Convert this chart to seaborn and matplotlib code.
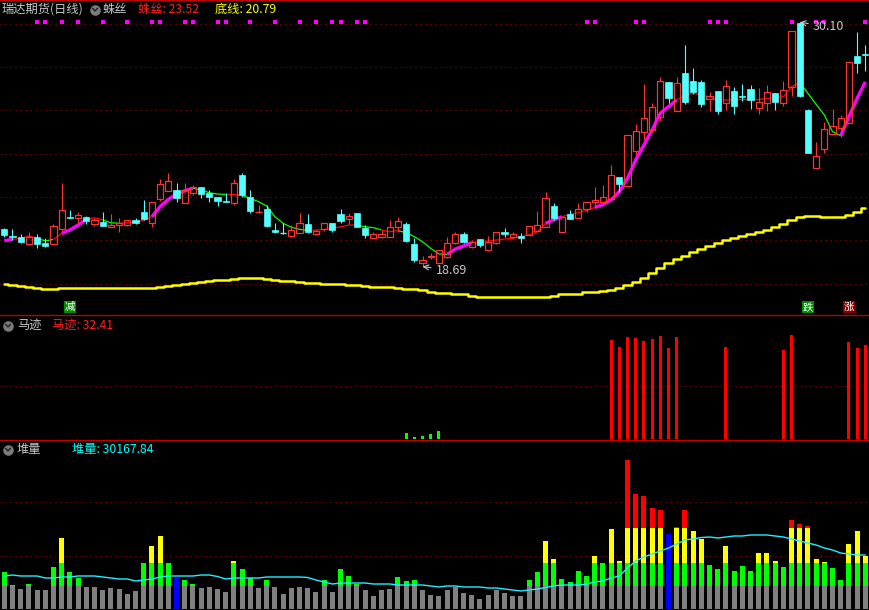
import numpy as np
import matplotlib
matplotlib.use("Agg")
import matplotlib.pyplot as plt
import seaborn as sns
from matplotlib.patches import Rectangle
from matplotlib.lines import Line2D

# ---------------- data ----------------
opens = [20.43, 20.14, 20.05, 19.75, 20.09, 19.81, 19.73, 20.43, 21.02, 20.97,
         21.02, 20.67, 20.79, 20.55, 20.63, 20.63, 20.87, 21.23, 20.71, 21.86,
         22.24, 22.27, 21.67, 22.14, 22.39, 22.14, 21.93, 21.77, 21.65, 22.97,
         21.93, 21.21, 21.37, 20.40, 20.27, 20.12, 20.25, 20.68, 20.20, 20.43,
         20.74, 21.15, 20.91, 21.18, 20.48, 20.04, 20.09, 20.09, 20.55, 20.68,
         19.75, 18.84, 19.12, 18.87, 19.12, 19.78, 20.21, 19.59, 19.96, 19.47,
         19.81, 20.30, 20.06, 20.12, 20.17, 20.37, 20.53, 21.52, 20.29, 21.13,
         20.95, 21.37, 21.72, 21.72, 21.83, 22.87, 22.47, 24.09, 24.96, 25.07,
         25.66, 27.30, 25.96, 27.72, 27.36, 27.31, 26.52, 26.89, 26.32, 26.89,
         26.67, 26.98, 26.11, 26.34, 26.78, 26.34, 27.09, 30.05, 26.00, 23.31,
         24.17, 24.87, 25.15, 25.38, 28.52, 28.62]
highs = [20.49, 20.43, 20.20, 20.30, 20.20, 20.01, 20.67, 22.59, 21.33, 21.25,
         21.05, 20.97, 21.23, 21.13, 20.97, 20.87, 20.97, 21.80, 21.69, 22.78,
         23.06, 22.58, 22.58, 22.50, 22.39, 22.27, 21.93, 22.11, 22.77, 23.05,
         22.27, 21.57, 21.57, 20.71, 20.71, 20.63, 21.18, 21.13, 20.40, 20.71,
         20.74, 21.37, 21.18, 21.18, 20.63, 20.32, 20.40, 20.87, 21.02, 20.79,
         20.01, 19.18, 19.31, 19.47, 20.09, 20.32, 20.32, 19.93, 19.96, 20.12,
         20.32, 20.48, 20.32, 20.24, 20.59, 21.30, 22.19, 21.67, 21.02, 21.33,
         21.65, 21.69, 22.42, 22.50, 23.43, 22.87, 24.84, 25.34, 27.22, 26.32,
         27.56, 27.30, 27.56, 29.04, 27.98, 27.40, 26.83, 26.89, 27.40, 27.09,
         27.22, 27.17, 27.02, 27.17, 26.78, 27.36, 29.69, 30.10, 26.06, 24.52,
         25.43, 26.04, 25.77, 28.23, 29.63, 29.04]
lows = [20.05, 19.93, 19.81, 19.70, 19.57, 19.62, 19.68, 20.35, 20.95, 20.74,
        20.67, 20.59, 20.60, 20.55, 20.32, 20.60, 20.68, 20.87, 20.55, 21.77,
        22.24, 21.72, 21.67, 22.03, 21.88, 21.72, 21.53, 21.72, 21.57, 21.95,
        21.21, 21.18, 20.55, 20.25, 20.20, 20.09, 20.25, 20.27, 20.17, 20.36,
        20.32, 20.74, 20.68, 20.53, 20.01, 20.01, 20.04, 20.09, 20.32, 19.86,
        18.92, 18.69, 19.03, 18.87, 19.08, 19.75, 19.78, 19.55, 19.62, 19.43,
        19.73, 20.06, 20.01, 19.81, 20.17, 20.32, 20.53, 20.87, 20.29, 20.91,
        20.95, 21.25, 21.41, 21.72, 21.83, 22.19, 22.47, 23.90, 24.60, 24.96,
        25.50, 26.32, 25.96, 26.30, 26.75, 26.13, 25.96, 25.80, 26.00, 25.82,
        26.42, 26.05, 25.82, 25.96, 26.00, 26.20, 26.64, 26.60, 23.98, 23.31,
        23.98, 24.84, 24.76, 25.38, 27.72, 27.84]
closes = [20.17, 20.05, 19.86, 20.09, 19.73, 19.67, 20.59, 21.32, 20.95, 21.10,
          20.83, 20.87, 20.60, 20.65, 20.71, 20.87, 20.74, 20.90, 21.69, 22.55,
          22.67, 21.88, 22.27, 22.42, 22.08, 21.95, 21.77, 21.72, 22.58, 22.03,
          21.30, 21.25, 20.60, 20.32, 20.25, 20.40, 20.71, 20.32, 20.35, 20.71,
          20.40, 20.83, 21.05, 20.53, 20.17, 20.21, 20.21, 20.55, 20.82, 19.90,
          19.00, 19.00, 19.18, 19.47, 19.78, 20.20, 19.86, 19.86, 19.70, 19.86,
          20.32, 20.21, 20.21, 20.02, 20.59, 20.63, 21.88, 20.97, 21.02, 20.91,
          21.37, 21.69, 21.80, 21.93, 22.97, 22.56, 24.84, 25.02, 25.62, 26.14,
          27.36, 26.55, 27.25, 26.39, 26.83, 26.28, 26.64, 25.97, 27.12, 26.20,
          26.61, 26.45, 26.36, 26.83, 26.39, 26.94, 29.69, 26.67, 23.98, 23.86,
          25.12, 25.26, 25.62, 28.23, 28.21, 28.56]

# 蛛丝 line and its trend state per segment (M = strong rise, R = mild, G = falling)
spider = [19.90, 19.96, 20.01, 20.12, 20.01, 19.89, 19.96, 20.24, 20.40, 20.63,
          20.90, 20.97, 20.87, 20.74, 20.71, 20.74, 20.78, 20.84, 21.02, 21.49,
          21.83, 22.08, 22.23, 22.35, 22.27, 22.14, 22.08, 22.06, 22.06, 22.02,
          21.88, 21.72, 21.52, 21.02, 20.71, 20.53, 20.43, 20.38, 20.40, 20.42,
          20.48, 20.55, 20.63, 20.63, 20.55, 20.51, 20.40, 20.32, 20.37, 20.27,
          20.09, 19.85, 19.54, 19.28, 19.26, 19.51, 19.65, 19.81, 19.85, 19.89,
          19.93, 19.98, 20.01, 20.09, 20.17, 20.32, 20.71, 20.87, 21.02, 21.13,
          21.21, 21.31, 21.45, 21.59, 21.80, 22.19, 22.81, 23.67, 24.37, 25.07,
          25.85, 26.16, 26.47, 26.67, 26.78, 26.70, 26.62, 26.47, 26.47, 26.49,
          26.49, 26.49, 26.49, 26.55, 26.58, 26.62, 27.09, 27.28, 26.78, 26.27,
          25.77, 24.99, 24.80, 25.69, 26.55, 27.32]
spider_trend = ("M" "RRR" "GG" "R" "MMM" "RR" "GG" "RRRR" "MMMMM" "GGGG" "RR"
                "GGGGGGGG" "RRRRRR" "GGG" "RR" "GGGGGG" "MMM" "RRRRRRRRR" "MM"
                "RRRR" "MMMMMMMMMM" "RRRRRRRRRRRRRRR" "GGGGG" "MMM")

# 底线 line
base_line = [17.89, 17.84, 17.80, 17.75, 17.70, 17.66, 17.66, 17.70, 17.70, 17.70,
             17.70, 17.70, 17.70, 17.70, 17.70, 17.70, 17.70, 17.70, 17.70, 17.75,
             17.80, 17.84, 17.89, 17.94, 17.98, 18.03, 18.08, 18.08, 18.12, 18.17,
             18.17, 18.17, 18.12, 18.08, 18.03, 18.03, 17.98, 17.94, 17.94, 17.89,
             17.89, 17.89, 17.84, 17.84, 17.80, 17.75, 17.75, 17.75, 17.70, 17.66,
             17.66, 17.61, 17.52, 17.47, 17.47, 17.42, 17.42, 17.33, 17.28, 17.28,
             17.28, 17.28, 17.28, 17.28, 17.28, 17.28, 17.28, 17.33, 17.41, 17.41,
             17.41, 17.50, 17.50, 17.55, 17.60, 17.69, 17.83, 17.97, 18.16, 18.39,
             18.62, 18.86, 19.04, 19.18, 19.37, 19.51, 19.65, 19.79, 19.93, 20.03,
             20.12, 20.21, 20.31, 20.40, 20.54, 20.68, 20.87, 21.01, 21.05, 21.05,
             21.01, 21.01, 21.01, 21.10, 21.24, 21.43]

signal_dots = [4, 5, 7, 9, 12, 15, 18, 19, 22, 23, 26, 27, 30, 33, 36, 38, 40, 41,
               43, 44, 71, 72, 77, 78, 86, 87, 88, 96, 99, 100, 105]
mark_idx = [8, 98, 103]
mark_text = ["减", "跌", "涨"]
mark_color = ["#008a00", "#008a00", "#8a0000"]

# 马迹
majiu_red_idx = [74, 75, 76, 77, 78, 79, 80, 81, 82, 88, 95, 96, 103, 104, 105]
majiu_red_val = [34.2, 31.6, 35.2, 34.8, 33.8, 34.5, 35.5, 31.4, 35.2, 31.6,
                 30.7, 35.9, 33.5, 31.4, 32.41]
majiu_green_idx = [49, 50, 51, 52, 53]
majiu_green_val = [2.0, 0.7, 1.0, 1.7, 2.8]

# 堆量
volume = [21050, 13660, 11380, 14230, 10810, 10810, 23900, 40400, 21050, 17640,
          12800, 12520, 10810, 11950, 11380, 8540, 10240, 26000, 35850, 41540,
          26100, 17640, 16500, 14230, 11950, 12800, 11380, 9670, 27310, 22760,
          17640, 11950, 16500, 12520, 8540, 11950, 12800, 11950, 9670, 16500,
          9670, 22760, 18780, 14230, 10810, 7400, 10810, 11380, 18210, 15930,
          16500, 10810, 7970, 7400, 10810, 12800, 9100, 7970, 5690, 7970,
          10810, 9100, 7400, 7400, 16500, 21050, 38690, 28450, 17070, 15360,
          21620, 18780, 30160, 25900, 45520, 27310, 84780, 65440, 64300, 57470,
          56330, 42680, 46660, 56330, 44380, 39830, 25040, 22760, 35850, 21620,
          24470, 21620, 31860, 31860, 27310, 23900, 50640, 48370, 47230, 28450,
          26740, 23330, 16500, 36990, 44380, 30170]
volume_ma = [18780, 19350, 18780, 18780, 18780, 17640, 17640, 18210, 18210, 18780,
             18780, 18780, 18210, 17640, 17070, 17070, 15930, 16500, 17070, 18210,
             18780, 18780, 18780, 18780, 19350, 19350, 18490, 17070, 17640, 17640,
             17640, 17640, 18210, 18210, 18210, 18210, 18210, 17920, 16500, 15360,
             14230, 14790, 14790, 14790, 14790, 14230, 14230, 14230, 13660, 13660,
             13660, 13660, 13090, 12520, 13090, 13090, 12520, 12520, 12520, 11950,
             11950, 11380, 10810, 10240, 10810, 11380, 12230, 13090, 13660, 13660,
             13660, 14230, 15360, 15930, 17640, 18780, 23330, 27310, 29590, 31300,
             33000, 34710, 36990, 39260, 39830, 40680, 40970, 40400, 40970, 41540,
             41540, 42110, 42110, 42110, 41540, 40970, 39830, 38690, 37550, 36420,
             34710, 33570, 31860, 31300, 30730, 30730]
blue_idx = [21, 81]
vol_bands = [13100, 26200, 46100]

low_point = (51, 18.69)
high_point = (97, 30.10)

# ---------------- style ----------------
sns.set_theme(style="dark", rc={"figure.facecolor": "black", "axes.facecolor": "black"})
plt.rcParams['font.family'] = ['Noto Sans CJK SC', 'DejaVu Sans']
plt.rcParams['axes.unicode_minus'] = False

RED = "#ff3232"
CYAN = "#54ffff"
GRID = "#a00000"
SEP = "#c00000"
LABEL = "#c8c8c8"

W, H = 870, 610
fig = plt.figure(figsize=(8.7, 6.1), dpi=100, facecolor="black")


def frame(y0, y1):
    return [0, (H - y1) / H, 1, (y1 - y0) / H]


ax1 = fig.add_axes(frame(0, 315))
ax2 = fig.add_axes(frame(315, 440))
ax3 = fig.add_axes(frame(440, 610))

n = len(opens)
idx = np.arange(n)
XLIM = (-0.524, 105.57)

for ax in (ax1, ax2, ax3):
    ax.set_facecolor("black")
    ax.grid(False)
    for s in ax.spines.values():
        s.set_visible(False)
    ax.spines['top'].set_visible(True)
    ax.spines['top'].set_color(SEP)
    ax.spines['top'].set_linewidth(1.0)

# ---------------- main panel ----------------
for g in [17.88, 19.91, 21.92, 23.95, 25.98, 28.01, 30.04]:
    ax1.axhline(g, color=GRID, lw=0.8, ls=(0, (1, 3.5)), zorder=1)

# 底线 (yellow, stepped)
sns.lineplot(x=idx, y=base_line, ax=ax1, color="#ffff00", linewidth=1.8,
             drawstyle="steps-mid", zorder=2)

# 蛛丝 line coloured by trend
styles = {"M": ("#ff00ff", 2.4), "R": ("#ff0000", 0.9), "G": ("#00ff00", 0.9)}
start = 0
for s in range(1, len(spider_trend) + 1):
    if s == len(spider_trend) or spider_trend[s] != spider_trend[start]:
        col, lw = styles[spider_trend[start]]
        ax1.plot(idx[start:s + 1], spider[start:s + 1], color=col, lw=lw,
                 zorder=2, solid_capstyle="butt")
        start = s

# candles
w = 0.76
for i in range(n):
    o, h, l, c = opens[i], highs[i], lows[i], closes[i]
    if c >= o:
        col = RED
        top, bot = c, o
        if top - bot < 0.045:
            ax1.vlines(i, l, h, color=col, lw=0.8, zorder=3)
            ax1.hlines((top + bot) / 2, i - w / 2, i + w / 2, color=col, lw=1.0, zorder=3)
        else:
            ax1.vlines(i, top, h, color=col, lw=0.8, zorder=3)
            ax1.vlines(i, l, bot, color=col, lw=0.8, zorder=3)
            ax1.add_patch(Rectangle((i - w / 2, bot), w, top - bot, facecolor="none",
                                    edgecolor=col, lw=0.9, zorder=3))
    else:
        col = CYAN
        ax1.vlines(i, l, h, color=col, lw=0.8, zorder=3)
        if o - c < 0.045:
            ax1.hlines((o + c) / 2, i - w / 2, i + w / 2, color=col, lw=1.0, zorder=3)
        else:
            ax1.add_patch(Rectangle((i - w / 2, c), w, o - c, facecolor=col,
                                    edgecolor=col, lw=0.5, zorder=3))

# signal dots along the top
ax1.scatter(signal_dots, [0.9317] * len(signal_dots), marker="s", s=5, color="#ff00ff",
            linewidths=0, transform=ax1.get_xaxis_transform(), zorder=4)

# markers at the bottom of the main panel
for i, t, col in zip(mark_idx, mark_text, mark_color):
    ax1.text(i, 0.026, t, transform=ax1.get_xaxis_transform(), ha="center", va="center",
             color="white", fontsize=7.5,
             bbox=dict(boxstyle="square,pad=0.08", fc=col, ec="none"), zorder=5)

# extreme labels
ax1.annotate(f"{low_point[1]:.2f}", xy=low_point, xytext=(low_point[0] + 1.6, low_point[1] - 0.17),
             color=LABEL, fontsize=9, ha="left", va="center",
             arrowprops=dict(arrowstyle="->", color=LABEL, lw=0.8, shrinkA=1, shrinkB=0), zorder=5)
ax1.annotate(f"{high_point[1]:.2f}", xy=high_point, xytext=(high_point[0] + 1.6, high_point[1] - 0.2),
             color=LABEL, fontsize=9, ha="left", va="center",
             arrowprops=dict(arrowstyle="->", color=LABEL, lw=0.8, shrinkA=1, shrinkB=0), zorder=5)

ax1.set_xlim(*XLIM)
ax1.set_ylim(16.43, 31.14)

# ---------------- 马迹 panel ----------------
ax2.axhline(18.2, color=GRID, lw=0.8, ls=(0, (1, 3.5)), zorder=1)
ax2.bar(majiu_red_idx, majiu_red_val, width=0.38, color="#ff0000", linewidth=0, zorder=2)
ax2.bar(majiu_green_idx, majiu_green_val, width=0.38, color="#00ff00", linewidth=0, zorder=2)
ax2.set_xlim(*XLIM)
ax2.set_ylim(-0.345, 42.8)

# ---------------- 堆量 panel ----------------
for g in [30400, 60700]:
    ax3.axhline(g, color=GRID, lw=0.8, ls=(0, (1, 3.5)), zorder=1)
vol = np.array(volume, dtype=float)
t1, t2, t3 = vol_bands
isblue = np.isin(idx, blue_idx)
gray_p = np.where(isblue, 0, np.minimum(vol, t1))
green_p = np.where(isblue, 0, np.clip(vol - t1, 0, t2 - t1))
yellow_p = np.where(isblue, 0, np.clip(vol - t2, 0, t3 - t2))
red_p = np.where(isblue, 0, np.clip(vol - t3, 0, None))
bw = 0.62
ax3.bar(idx, gray_p, width=bw, color="#808080", linewidth=0, zorder=2)
ax3.bar(idx, green_p, bottom=gray_p, width=bw, color="#00ff00", linewidth=0, zorder=2)
ax3.bar(idx, yellow_p, bottom=gray_p + green_p, width=bw, color="#ffff00", linewidth=0, zorder=2)
ax3.bar(idx, red_p, bottom=gray_p + green_p + yellow_p, width=bw, color="#ff0000", linewidth=0, zorder=2)
ax3.bar(idx[isblue], vol[isblue], width=bw, color="#0000ff", linewidth=0, zorder=2)
sns.lineplot(x=idx, y=volume_ma, ax=ax3, color="#22eeff", linewidth=1.0, zorder=3)
ax3.set_xlim(*XLIM)
ax3.set_ylim(-569, 96161)

for ax in (ax1, ax2, ax3):
    ax.set_xticks([])
    ax.set_yticks([])
    ax.set_xlabel("")
    ax.set_ylabel("")


# ---------------- header texts ----------------
def px(x, y):
    return x / 100.0, (H - y) / 100.0


def ftext(x, y, s, color, size=8.8):
    fig.text(*px(x, y), s, color=color, fontsize=size, ha="left", va="center",
             transform=fig.dpi_scale_trans)


def icon(x, y):
    cx, cy = px(x, y)
    fig.add_artist(Line2D([cx], [cy], marker="o", markersize=7.6, color="#7c7c7c",
                          markeredgewidth=0, transform=fig.dpi_scale_trans))
    fig.add_artist(Line2D([cx - 0.025, cx, cx + 0.025], [cy + 0.012, cy - 0.014, cy + 0.012],
                          color="#262626", lw=1.1, transform=fig.dpi_scale_trans))


ftext(2, 9.5, "瑞达期货(日线)", LABEL)
icon(95, 9.5)
ftext(103, 9.5, "蛛丝", LABEL)
ftext(138, 9.5, "蛛丝: 23.52", "#ff2020")
ftext(215, 9.5, "底线: 20.79", "#ffff00")

icon(8, 325.5)
ftext(17, 325.5, "马迹", LABEL)
ftext(52, 325.5, "马迹: 32.41", "#ff2020")

icon(8, 449.5)
ftext(17, 449.5, "堆量", LABEL)
ftext(72, 449.5, "堆量: 30167.84", "#00ffff")

fig.savefig("out.png", dpi=100, facecolor="black")
